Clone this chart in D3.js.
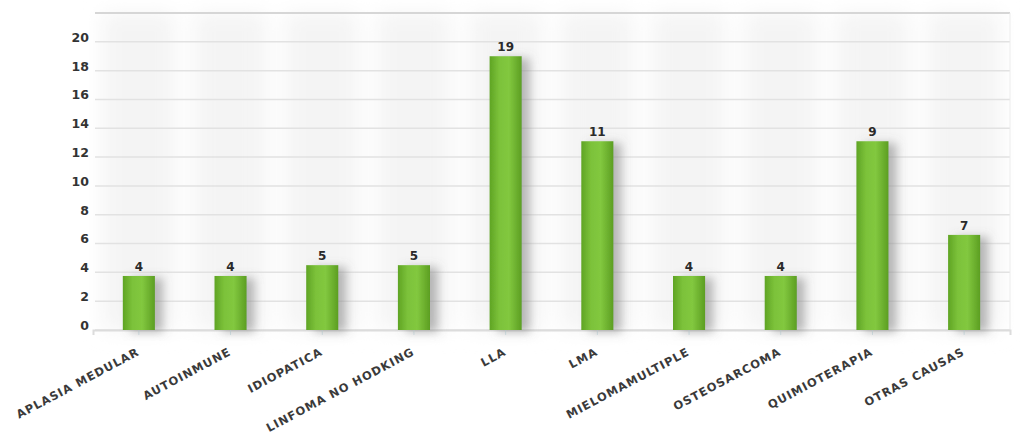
<!DOCTYPE html>
<html>
<head>
<meta charset="utf-8">
<script src="https://cdn.jsdelivr.net/npm/d3@7"></script>
<style>
  body { margin: 0; background: #fff; }
  svg { display: block; font-family: "DejaVu Sans", sans-serif; }
</style>
</head>
<body>
<svg id="chart" width="1020" height="441"></svg>
<script>
// data
const categories = ["APLASIA MEDULAR", "AUTOINMUNE", "IDIOPATICA", "LINFOMA NO HODKING", "LLA",
  "LMA", "MIELOMAMULTIPLE", "OSTEOSARCOMA", "QUIMIOTERAPIA", "OTRAS CAUSAS"];
// bar heights as drawn (they do not always agree with the printed labels)
const barHeights = [3.75, 3.75, 4.5, 4.5, 19, 13.1, 3.75, 3.75, 13.1, 6.6];
const valueLabels = ["4", "4", "5", "5", "19", "11", "4", "4", "9", "7"];
const yTicks = [0, 2, 4, 6, 8, 10, 12, 14, 16, 18, 20];

const svg = d3.select("#chart");
const margin = {top: 13, right: 10, bottom: 111, left: 93};
const width = +svg.attr("width");
const height = +svg.attr("height");

const x = d3.scaleBand()
  .domain(categories)
  .range([margin.left, width - margin.right])
  .paddingInner(0.65)
  .paddingOuter(0.325);

const y = d3.scaleLinear()
  .domain([0, 22])
  .range([height - margin.bottom, margin.top]);

const defs = svg.append("defs");
const grad = defs.append("linearGradient").attr("id", "barGrad")
  .attr("x1", "0%").attr("x2", "100%").attr("y1", "0%").attr("y2", "0%");
grad.append("stop").attr("offset", "0%").attr("stop-color", "#5fa424");
grad.append("stop").attr("offset", "30%").attr("stop-color", "#7cc23a");
grad.append("stop").attr("offset", "60%").attr("stop-color", "#82c83f");
grad.append("stop").attr("offset", "100%").attr("stop-color", "#5c9e22");

const shadow = defs.append("filter").attr("id", "shadow")
  .attr("x", "-50%").attr("y", "-20%").attr("width", "250%").attr("height", "140%");
shadow.append("feDropShadow")
  .attr("dx", 8).attr("dy", 2).attr("stdDeviation", 5)
  .attr("flood-color", "#777").attr("flood-opacity", 0.5);

const blur = defs.append("filter").attr("id", "blur");
blur.append("feGaussianBlur").attr("stdDeviation", 10);

// faint column shading behind the bars
svg.append("g")
  .attr("filter", "url(#blur)")
  .selectAll("rect")
  .data(categories)
  .join("rect")
    .attr("x", d => x(d) + x.bandwidth() / 2 - 36)
    .attr("y", y(22))
    .attr("width", 72)
    .attr("height", y(0) - y(22))
    .attr("fill", "#f4f4f4");

// grid lines
svg.append("g")
  .selectAll("line")
  .data(yTicks.concat([22]))
  .join("line")
    .attr("x1", margin.left + 2)
    .attr("x2", width - margin.right)
    .attr("y1", d => y(d))
    .attr("y2", d => y(d))
    .attr("stroke", d => d === 22 ? "#d6d6d6" : "#e2e2e2")
    .attr("stroke-width", d => d === 22 ? 2 : 1.5);

// right edge
svg.append("line")
  .attr("x1", width - margin.right).attr("x2", width - margin.right)
  .attr("y1", y(22)).attr("y2", y(0))
  .attr("stroke", "#ececec");

// y axis labels
const yAxis = g => g
  .attr("transform", `translate(${margin.left - 4},0)`)
  .call(d3.axisLeft(y).tickValues(yTicks).tickSize(0).tickPadding(0))
  .call(g => g.select(".domain").remove())
  .call(g => g.selectAll("text")
    .attr("dy", "-0.05em")
    .attr("fill", "#333")
    .attr("font-size", 12.5)
    .attr("font-weight", "bold")
    .attr("font-family", "DejaVu Sans, sans-serif"));
svg.append("g").call(yAxis);

// x axis
const xAxis = g => g
  .attr("transform", `translate(0,${y(0)})`)
  .call(d3.axisBottom(x).tickSize(5).tickPadding(0))
  .call(g => g.select(".domain").attr("stroke", "#dcdcdc").attr("stroke-width", 2))
  .call(g => g.selectAll(".tick line").attr("stroke", "#d6e6ea"))
  .call(g => g.selectAll("text")
    .attr("text-anchor", "end")
    .attr("fill", "#3a3a3a")
    .attr("font-size", 11.5)
    .attr("font-weight", "bold")
    .attr("letter-spacing", "1px")
    .attr("font-family", "DejaVu Sans, sans-serif")
    .attr("dy", 0)
    .attr("transform", "translate(-1,20) rotate(-28)"));
svg.append("g").call(xAxis);

// bars
svg.append("g")
  .selectAll("rect")
  .data(barHeights)
  .join("rect")
    .attr("x", (d, i) => x(categories[i]))
    .attr("y", d => y(d))
    .attr("width", x.bandwidth())
    .attr("height", d => y(0) - y(d))
    .attr("fill", "url(#barGrad)")
    .attr("filter", "url(#shadow)");

// value labels
svg.append("g")
  .selectAll("text")
  .data(barHeights)
  .join("text")
    .attr("x", (d, i) => x(categories[i]) + x.bandwidth() / 2)
    .attr("y", d => y(d) - 5)
    .attr("text-anchor", "middle")
    .attr("fill", "#2a2a2a")
    .attr("font-size", 12)
    .attr("font-weight", "bold")
    .text((d, i) => valueLabels[i]);
</script>
</body>
</html>
